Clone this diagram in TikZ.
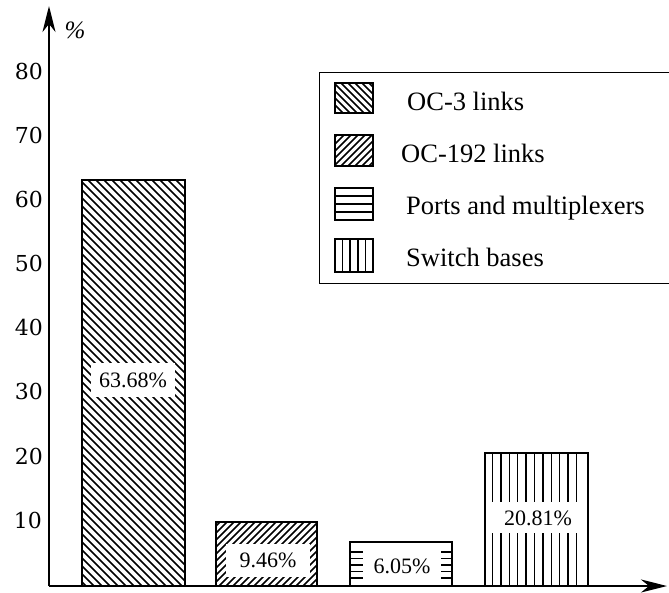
\documentclass[tikz,border=0pt]{standalone}
\usepackage{fontspec}
\setmainfont{Liberation Serif}
\newfontfamily\tickfont{DejaVu Serif}
\usetikzlibrary{arrows.meta}
\begin{document}
\begin{tikzpicture}[x=1pt,y=-1pt,
  axisline/.style={line width=1.9pt,-{Stealth[length=26pt,width=13pt,inset=8pt]}},
  barframe/.style={line width=2.3pt},
  hatchline/.style={line width=1.5pt},
  iconframe/.style={line width=1.9pt},
  ticklab/.style={font=\tickfont\fontsize{22}{22}\selectfont, anchor=east, inner sep=0pt},
  barlabel/.style={font=\fontsize{22}{22}\selectfont, fill=white, inner sep=0pt},
  legtext/.style={font=\fontsize{26.5}{26.5}\selectfont, anchor=west, inner sep=0pt},
  ]
\useasboundingbox (0,0) rectangle (669,592);

% axes
\coordinate (O) at (49,586);
\coordinate (ytip) at (49,6);
\coordinate (xtip) at (667,586);

% ---------- bar 1 : OC-3 (backslash hatch)
\coordinate (b1a) at (82,586);
\coordinate (b1b) at (185,180);
\begin{scope}
  \clip (b1a) rectangle (b1b);
  \foreach \c in {-12,-4,...,512} \draw[hatchline] (60,60+\c) -- (220,220+\c);
\end{scope}
\node[barlabel, minimum width=84, minimum height=34] (l1) at (133,380) {63.68\%};
\draw[barframe] (b1a) rectangle (b1b);

% ---------- bar 2 : OC-192 (slash hatch)
\coordinate (b2a) at (216,586);
\coordinate (b2b) at (317,522);
\begin{scope}
  \clip (b2a) rectangle (b2b);
  \foreach \c in {728,735,...,910} \draw[hatchline] (200,\c-200) -- (340,\c-340);
\end{scope}
\node[barlabel, minimum width=84, minimum height=33] (l2) at (268,560) {9.46\%};
\draw[barframe] (b2a) rectangle (b2b);

% ---------- bar 3 : ports (horizontal)
\coordinate (b3a) at (350,586);
\coordinate (b3b) at (452,542);
\begin{scope}
  \clip (b3a) rectangle (b3b);
  \foreach \y in {552,558.5,565,571.5,578} \draw[hatchline] (340,\y) -- (460,\y);
\end{scope}
\node[barlabel, minimum width=78, minimum height=40] (l3) at (402,566) {6.05\%};
\draw[barframe] (b3a) rectangle (b3b);

% ---------- bar 4 : switch bases (vertical)
\coordinate (b4a) at (485,586);
\coordinate (b4b) at (588,453);
\begin{scope}
  \clip (b4a) rectangle (b4b);
  \foreach \k in {0,...,10} \draw[hatchline] (492.5+8.4*\k,440) -- (492.5+8.4*\k,600);
\end{scope}
\fill[white] (487,502) rectangle (586,533);
\node[font=\fontsize{22}{22}\selectfont, inner sep=0pt] (l4) at (538,518) {20.81\%};
\draw[barframe] (b4a) rectangle (b4b);

% axes on top
\draw[axisline] (O) -- (ytip);
\draw[axisline] (O) -- (xtip);
\node[font=\fontsize{25}{25}\selectfont\itshape, inner sep=0pt] (pct) at (75,30) {\%};

% tick labels
\node[ticklab] (t80) at (43,71) {80};
\node[ticklab] (t70) at (43,135) {70};
\node[ticklab] (t60) at (43,199) {60};
\node[ticklab] (t50) at (43,263) {50};
\node[ticklab] (t40) at (43,327) {40};
\node[ticklab] (t30) at (43,391) {30};
\node[ticklab] (t20) at (43,456) {20};
\node[ticklab] (t10) at (42,520) {10};

% ---------- legend
\node[draw, line width=1.4pt, minimum width=355, minimum height=211, anchor=north west, inner sep=0pt] (legend) at (319,72) {};

% icon 1
\coordinate (i1a) at (335,113);
\coordinate (i1b) at (373,83);
\begin{scope}
  \clip (i1a) rectangle (i1b);
  \foreach \c in {-293,-286,...,-215} \draw[hatchline] (320,320+\c) -- (390,390+\c);
\end{scope}
\draw[iconframe] (i1a) rectangle (i1b);
% icon 2
\coordinate (i2a) at (335,166);
\coordinate (i2b) at (373,135);
\begin{scope}
  \clip (i2a) rectangle (i2b);
  \foreach \c in {465,472,...,545} \draw[hatchline] (320,\c-320) -- (390,\c-390);
\end{scope}
\draw[iconframe] (i2a) rectangle (i2b);
% icon 3
\coordinate (i3a) at (335,220);
\coordinate (i3b) at (373,188);
\foreach \y in {196,204,212} \draw[hatchline] (335,\y) -- (373,\y);
\draw[iconframe] (i3a) rectangle (i3b);
% icon 4
\coordinate (i4a) at (335,272);
\coordinate (i4b) at (373,239);
\foreach \x in {342.6,350.2,357.8,365.4} \draw[hatchline] (\x,239) -- (\x,272);
\draw[iconframe] (i4a) rectangle (i4b);

\node[legtext] (tx1) at (407,101) {OC-3 links};
\node[legtext] (tx2) at (401,153) {OC-192 links};
\node[legtext] (tx3) at (406,208) {Ports and multiplexers};
\node[legtext] (tx4) at (406,257) {Switch bases};
\end{tikzpicture}
\end{document}
